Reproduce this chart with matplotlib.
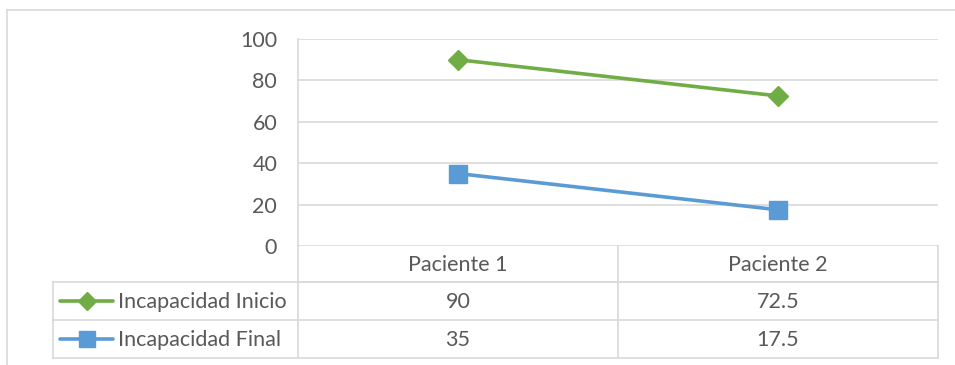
import matplotlib
matplotlib.use("Agg")
import matplotlib.pyplot as plt
from matplotlib.lines import Line2D

plt.rcParams['font.family'] = ['Lato', 'DejaVu Sans']

categories = ["Paciente 1", "Paciente 2"]
series_names = ["Incapacidad Inicio", "Incapacidad Final"]
inicio = [90, 72.5]
final = [35, 17.5]
y_ticks = [0, 20, 40, 60, 80, 100]

text_color = "#595959"
grid_color = "#D9D9D9"
green = "#70AD47"
blue = "#5B9BD5"
fs = 15.5

W, H = 955, 365
fig = plt.figure(figsize=(W / 100, H / 100), dpi=100)

# overlay in pixel coordinates for the frame and the data table
ov = fig.add_axes([0, 0, 1, 1])
ov.set_xlim(0, W)
ov.set_ylim(H, 0)
ov.axis("off")

# plot area
x0, x1 = 298, 938
y_top, y_bot = 39, 246
ax = fig.add_axes([x0 / W, (H - y_bot) / H, (x1 - x0) / W, (y_bot - y_top) / H])
ax.set_xlim(-0.5, len(categories) - 0.5)
ax.set_ylim(0, 100)
ax.set_yticks(y_ticks)
ax.set_yticklabels([str(t) for t in y_ticks])
ax.set_xticks([])
ax.tick_params(axis="y", length=0, pad=15, labelsize=fs, labelcolor=text_color)
for s in ["top", "right", "bottom"]:
    ax.spines[s].set_visible(False)
ax.spines["left"].set_color(grid_color)
ax.spines["left"].set_linewidth(1.2)
ax.grid(axis="y", color=grid_color, linewidth=1.2)
ax.set_axisbelow(True)
ax.patch.set_alpha(0)

xs = list(range(len(categories)))
ax.plot(xs, inicio, color=green, linewidth=2.6, marker="D", markersize=10.5,
        solid_capstyle="round", zorder=3)
ax.plot(xs, final, color=blue, linewidth=2.6, marker="s", markersize=12.5,
        solid_capstyle="round", zorder=3)

# outer chart frame (top and left edges)
ov.plot([7, W], [10, 10], color=grid_color, linewidth=1.2)
ov.plot([7, 7], [10, H], color=grid_color, linewidth=1.2)

# data table
leg_x = 53
col_w = (x1 - x0) / len(categories)
row_edges = [y_bot, 282, 320, 358]
lw = 1.2
# horizontal rules
ov.plot([x0, x1], [row_edges[1], row_edges[1]], color=grid_color, lw=lw)
ov.plot([leg_x, x1], [row_edges[1], row_edges[1]], color=grid_color, lw=lw)
ov.plot([leg_x, x1], [row_edges[2], row_edges[2]], color=grid_color, lw=lw)
ov.plot([leg_x, x1], [row_edges[3], row_edges[3]], color=grid_color, lw=lw)
# vertical rules
ov.plot([leg_x, leg_x], [row_edges[1], row_edges[3]], color=grid_color, lw=lw)
for i in range(len(categories) + 1):
    xv = x0 + i * col_w
    ov.plot([xv, xv], [y_bot, row_edges[3]], color=grid_color, lw=lw)

# header row
for i, c in enumerate(categories):
    ov.text(x0 + (i + 0.5) * col_w, (row_edges[0] + row_edges[1]) / 2 + 1, c,
            ha="center", va="center", fontsize=fs, color=text_color)

# series rows
rows = [(series_names[0], inicio, green, "D", 9.5),
        (series_names[1], final, blue, "s", 11)]
for r, (name, vals, col, mk, ms) in enumerate(rows):
    yc = (row_edges[r + 1] + row_edges[r + 2]) / 2
    ov.add_line(Line2D([60, 113], [yc, yc], color=col, lw=2.6,
                       solid_capstyle="round"))
    ov.add_line(Line2D([86.5], [yc], color=col, marker=mk, markersize=ms,
                       linestyle="none"))
    ov.text(118, yc + 1, name, ha="left", va="center", fontsize=fs,
            color=text_color)
    for i, v in enumerate(vals):
        ov.text(x0 + (i + 0.5) * col_w, yc + 1, f"{v:g}", ha="center",
                va="center", fontsize=fs, color=text_color)

fig.savefig("out.png", dpi=100)
